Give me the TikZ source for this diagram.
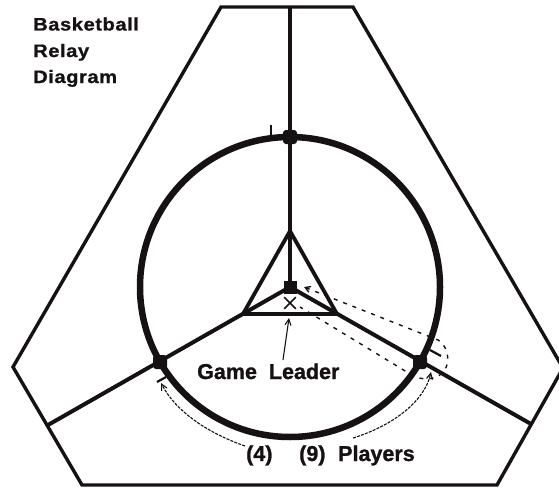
\documentclass[tikz,border=0pt]{standalone}
\usepackage{fontspec}
\setmainfont{Liberation Sans}
\usetikzlibrary{arrows.meta,shapes.misc}
\definecolor{ink}{RGB}{22,18,19}
\begin{document}
\begin{tikzpicture}[x=1pt,y=-1pt,
  hexline/.style={ink, line width=3.4pt, line join=miter},
  topspoke/.style={ink, line width=3.4pt},
  spoke/.style={ink, line width=4pt},
  tri/.style={ink, line width=3.8pt, line join=miter},
  ring/.style={ink, line width=6.5pt},
  player/.style={rectangle, rounded corners=3pt, fill=ink, inner sep=0pt, minimum size=14pt},
  leader/.style={rectangle, fill=ink, inner sep=0pt, minimum size=13pt},
  lbl/.style={font=\bfseries\fontsize{21.5}{24}\selectfont\addfontfeatures{FakeBold=1.2}, inner sep=0pt, anchor=base west, text=ink},
  ttl/.style={font=\bfseries\fontsize{18}{22}\selectfont\addfontfeatures{FakeStretch=1.12,LetterSpace=3,FakeBold=1}, inner sep=0pt, anchor=base west, text=ink},
  dashpath/.style={ink, line width=1.4pt, dash pattern=on 4pt off 6pt},
  pointer/.style={ink, line width=1.1pt, -{Straight Barb[length=6pt,width=6pt]}},
  tick/.style={ink, line width=2.2pt},
  xmark/.style={cross out, draw=ink, line width=1.7pt, minimum size=10pt, inner sep=0pt}]
\useasboundingbox (0,0) rectangle (559,487);
% hexagon
\coordinate (h1) at (221,7);
\coordinate (h2) at (353,7);
\coordinate (h3) at (563,368);
\coordinate (h4) at (497,485);
\coordinate (h5) at (82,485);
\coordinate (h6) at (13,367);
\draw[hexline] (h1) -- (h2) -- (h3) -- (h4) -- (h5) -- (h6) -- cycle;
% centre and spokes
\coordinate (C) at (290,287);
\coordinate (T) at (290,7);
\coordinate (SL) at (48,425);
\coordinate (SR) at (531,424);
\draw[topspoke] (C) -- (T);
\draw[spoke] (C) -- (SL);
\draw[spoke] (C) -- (SR);
% ring
\draw[ring] (C) circle[radius=150];
% inner triangle
\coordinate (ta) at (290,231);
\coordinate (tl) at (243,314);
\coordinate (tr) at (337,314);
\draw[tri] (ta) -- (tr) -- (tl) -- cycle;
% nodes
\node[leader] (L) at (C) {};
\node[player] (pT) at (290,137) {};
\node[player] (pL) at (160,362) {};
\node[player] (pR) at (420,362) {};
\node[xmark] (X) at (290,303) {};
% ticks
\draw[tick] (271,125) -- (271,136);
\draw[tick] (157,382) -- (166,377);
\draw[tick] (430,350) -- (441,356);
% dashed loop
\coordinate (dA) at (304,287);
\coordinate (dB) at (438,340);
\coordinate (dC) at (444,371);
\coordinate (dD) at (415,377);
\coordinate (dE) at (300,307);
\draw[dashpath, {Straight Barb[length=5pt,width=6pt]}-] (dA) -- (dB) .. controls (446,344) and (452,360) .. (dC) .. controls (437,380) and (425,380) .. (dD) -- (dE);
% labels
\node[ttl] (t1) at (33,30.5) {Basketball};
\node[ttl] (t2) at (33,57) {Relay};
\node[ttl] (t3) at (33,83) {Diagram};
\node[lbl] (gl) at (197,379) {Game\hspace{6pt} Leader};
\node[lbl] (n4) at (246,461) {(4)};
\node[lbl] (n9) at (299,461) {(9)};
\node[lbl] (pl) at (338,461) {Players};
% pointers
\coordinate (gA) at (283,360);
\coordinate (gB) at (289,318);
\draw[pointer] (gA) -- (gB);
\coordinate (a4) at (245,446);
\coordinate (tipL) at (161,383);
\draw[pointer, dash pattern=on 3pt off 1.2pt] (a4) .. controls (205,432) and (175,410) .. (tipL);
\coordinate (a9) at (353,438);
\coordinate (tipR) at (431,372);
\draw[pointer, dash pattern=on 3pt off 1.2pt] (a9) .. controls (395,425) and (425,400) .. (tipR);
\end{tikzpicture}
\end{document}
